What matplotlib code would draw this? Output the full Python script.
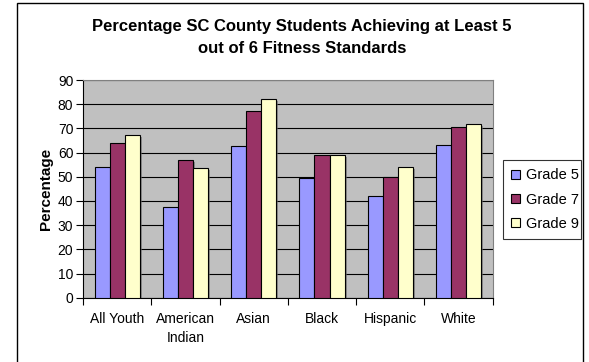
import matplotlib
matplotlib.use("Agg")
import matplotlib.pyplot as plt
import matplotlib.patheffects as pe
from matplotlib.patches import Rectangle
import numpy as np

plt.rcParams['font.family'] = ['Liberation Sans', 'DejaVu Sans']

# Données
categories = ["All Youth", "American\nIndian", "Asian", "Black", "Hispanic", "White"]
grade5 = [54.2, 37.4, 62.6, 49.4, 41.9, 63.2]
grade7 = [64.0, 56.8, 77.2, 58.9, 49.9, 70.4]
grade9 = [67.4, 53.5, 82.1, 58.9, 54.2, 71.9]
series_labels = ["Grade 5", "Grade 7", "Grade 9"]
colors = ["#9999FF", "#993366", "#FFFFCC"]

fig = plt.figure(figsize=(5.89, 3.62), dpi=100)
ax = fig.add_axes([83 / 589, 1 - 297.7 / 362, (492.7 - 83) / 589, (297.7 - 80) / 362])

# cadre extérieur du graphique
fig.patches.append(Rectangle((17 / 589, -0.1), (583 - 17) / 589, 1.1 - 3 / 362,
                             transform=fig.transFigure, fill=False,
                             edgecolor='black', lw=1.0))

ax.set_facecolor('#C0C0C0')
x = np.arange(len(categories))
w = 0.22
shadow = [pe.SimplePatchShadow(offset=(1.5, -1.5), shadow_rgbFace='#666666', alpha=0.6), pe.Normal()]
for i, (vals, lab, col) in enumerate(zip([grade5, grade7, grade9], series_labels, colors)):
    bars = ax.bar(x + (i - 1) * w, vals, w, color=col, edgecolor='black', lw=0.8,
                  label=lab, zorder=3)
    for b in bars:
        b.set_path_effects(shadow)

ax.set_xlim(-0.5, len(categories) - 0.5)
ax.set_ylim(0, 90)
ax.set_yticks(range(0, 91, 10))
ax.yaxis.grid(True, color='black', lw=0.8, zorder=0)
ax.set_axisbelow(True)

ax.set_xticks(x)
ax.set_xticklabels(categories, fontsize=10, linespacing=1.45)
ax.set_xticks(np.arange(-0.5, len(categories), 1), minor=True)
ax.tick_params(axis='x', which='major', length=0, pad=10)
ax.tick_params(axis='x', which='minor', length=5, width=0.8, direction='out')
ax.tick_params(axis='y', labelsize=10, length=5, width=0.8, pad=2)

for s in ['top', 'right']:
    ax.spines[s].set_color('#808080')
for s in ['left', 'bottom']:
    ax.spines[s].set_color('black')

ax.set_ylabel('Percentage', fontsize=11, fontweight='bold', labelpad=3)

fig.text(302 / 589, 1 - 37.5 / 362,
         "Percentage SC County Students Achieving at Least 5\nout of 6 Fitness Standards",
         ha='center', va='center', fontsize=12, fontweight='bold', linespacing=1.55)

leg = ax.legend(loc='center left', bbox_to_anchor=(503 / 589, 1 - 237 / 362, 78 / 589, 75 / 362),
                bbox_transform=fig.transFigure, mode='expand', fontsize=10.5,
                frameon=True, fancybox=False, edgecolor='black', borderaxespad=0,
                handlelength=0.6, handleheight=0.6, handletextpad=0.4,
                labelspacing=0.7, borderpad=0.55)
leg.get_frame().set_linewidth(0.8)
for h in leg.legend_handles:
    h.set_path_effects([])

fig.savefig('out.png', dpi=100, facecolor='white')
